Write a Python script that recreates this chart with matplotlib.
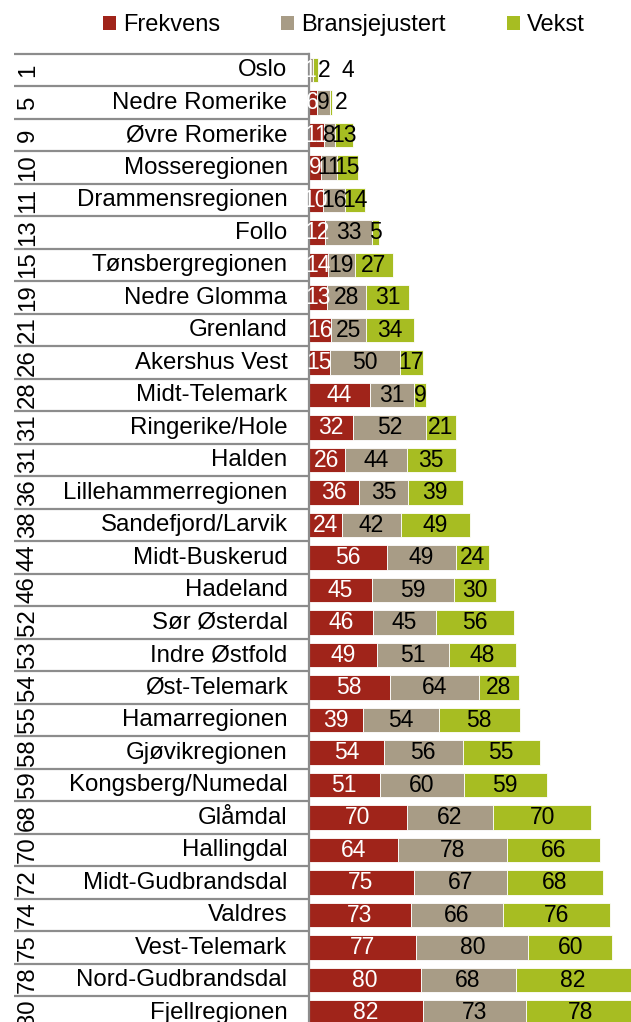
import matplotlib
matplotlib.use("Agg")
import matplotlib.pyplot as plt
import matplotlib.transforms as mtransforms
from matplotlib.patches import Patch
import numpy as np

plt.rcParams["font.family"] = ["Liberation Sans", "DejaVu Sans"]

# rank, region and the three index components
ranks = [1, 5, 9, 10, 11, 13, 15, 19, 21, 26, 28, 31, 31, 36, 38,
         44, 46, 52, 53, 54, 55, 58, 59, 68, 70, 72, 74, 75, 78, 80]
regions = ["Oslo", "Nedre Romerike", "Øvre Romerike", "Mosseregionen",
           "Drammensregionen", "Follo", "Tønsbergregionen", "Nedre Glomma",
           "Grenland", "Akershus Vest", "Midt-Telemark", "Ringerike/Hole",
           "Halden", "Lillehammerregionen", "Sandefjord/Larvik", "Midt-Buskerud",
           "Hadeland", "Sør Østerdal", "Indre Østfold", "Øst-Telemark",
           "Hamarregionen", "Gjøvikregionen", "Kongsberg/Numedal", "Glåmdal",
           "Hallingdal", "Midt-Gudbrandsdal", "Valdres", "Vest-Telemark",
           "Nord-Gudbrandsdal", "Fjellregionen"]
frekvens = [1, 6, 11, 9, 10, 12, 14, 13, 16, 15, 44, 32, 26, 36, 24,
            56, 45, 46, 49, 58, 39, 54, 51, 70, 64, 75, 73, 77, 80, 82]
bransje = [2, 9, 8, 11, 16, 33, 19, 28, 25, 50, 31, 52, 44, 35, 42,
           49, 59, 45, 51, 64, 54, 56, 60, 62, 78, 67, 66, 80, 68, 73]
vekst = [4, 2, 13, 15, 14, 5, 27, 31, 34, 17, 9, 21, 35, 39, 49,
         24, 30, 56, 48, 28, 58, 55, 59, 70, 66, 68, 76, 60, 82, 78]

series_names = ["Frekvens", "Bransjejustert", "Vekst"]
colors = ["#A0241A", "#A89C86", "#A7BD22"]
label_colors = ["white", "black", "black"]

# labels that don't fit inside tiny segments get pushed right (series, row): dx
label_nudge = {(1, 0): 9, (2, 0): 23, (2, 1): 7}

W, H = 631, 1022
fig = plt.figure(figsize=(W / 100, H / 100), dpi=100)

n = len(regions)
row_px = 32.5
top_px = 53.75
left_px = 308.5
ax_h = row_px * n
ax = fig.add_axes([left_px / W, 1 - (top_px + ax_h) / H, (W - left_px) / W, ax_h / H])

y = np.arange(n)
data = [frekvens, bransje, vekst]
left = np.zeros(n)
for si, vals in enumerate(data):
    vals = np.array(vals, dtype=float)
    ax.barh(y, vals, left=left, height=0.75, color=colors[si],
            edgecolor="white", linewidth=0.6, label=series_names[si])
    for i, v in enumerate(vals):
        xc = left[i] + v / 2 + label_nudge.get((si, i), 0)
        ax.text(xc, i, f"{int(v)}", ha="center", va="center",
                fontsize=16.5, color=label_colors[si])
    left += vals

ax.set_xlim(0, (W - left_px) / 1.4)
ax.set_ylim(n - 0.5, -0.5)
ax.set_xticks([])
ax.set_yticks([])
for s in ["top", "right", "bottom"]:
    ax.spines[s].set_visible(False)
ax.spines["left"].set_color("#8C8C8C")
ax.spines["left"].set_linewidth(1.6)

# category table on the left: separators, rank and region name
trans = mtransforms.blended_transform_factory(ax.transAxes, ax.transData)
ax_w = W - left_px
x_start = (14 - left_px) / ax_w
for b in np.arange(-0.5, n, 1.0):
    ax.plot([x_start, 0.005], [b, b], color="#8C8C8C", lw=1.6,
            transform=trans, clip_on=False, solid_capstyle="butt")
for i in range(n):
    ax.text(-21 / ax_w, i, regions[i], transform=trans, ha="right",
            va="center", fontsize=17.3, color="black")
    ax.text((28 - left_px) / ax_w, i, str(ranks[i]), transform=trans,
            ha="center", va="center", rotation=90, fontsize=17.3, color="black")

handles = [Patch(facecolor=c, edgecolor="none") for c in colors]
fig.legend(handles, series_names, loc="center", bbox_to_anchor=(344 / W, 1 - 25 / H),
           ncol=3, frameon=False, fontsize=17, handlelength=0.55, handleheight=0.55,
           handletextpad=0.3, columnspacing=2.6, borderaxespad=0)

fig.savefig("out.png", dpi=100)
